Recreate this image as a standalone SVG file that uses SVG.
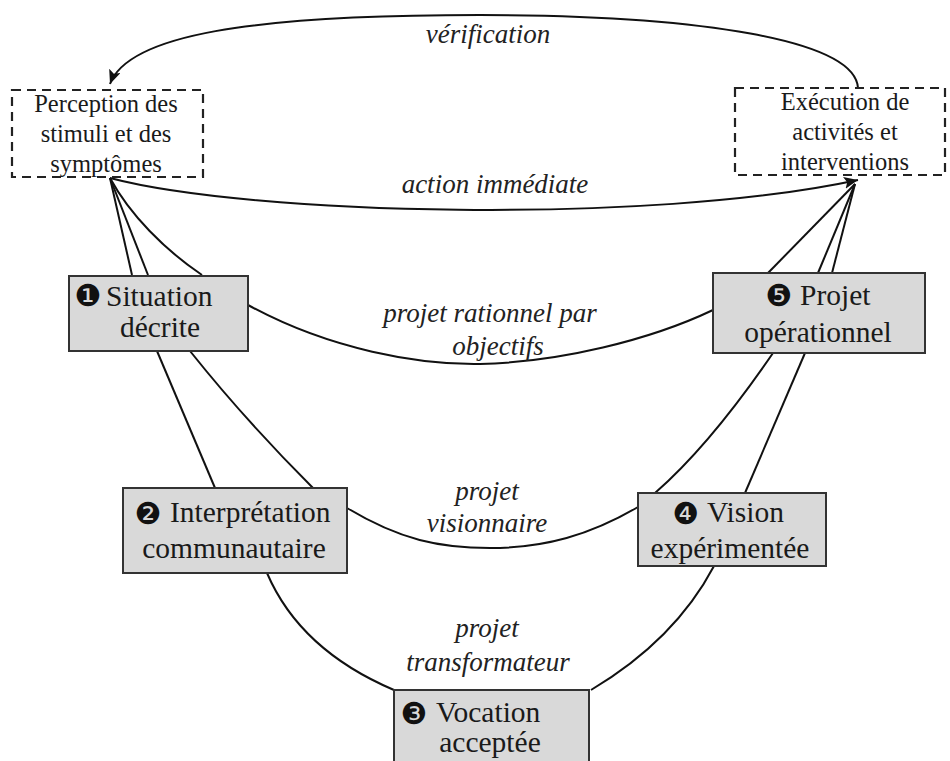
<svg xmlns="http://www.w3.org/2000/svg" width="950" height="761" viewBox="0 0 950 761">
<style>
.node rect{fill:#d9d9d9;stroke:#333;stroke-width:2}
.dash rect{fill:none;stroke:#222;stroke-width:2.2;stroke-dasharray:9,6}
.t{font-family:"Liberation Serif","Times New Roman",serif;fill:#1a1a1a}
.nt{font-size:29.5px}
.dt{font-size:24.5px}
.num{font-family:"DejaVu Sans",sans-serif;font-size:30px;fill:#111}
.lbl{font-family:"Liberation Serif","Times New Roman",serif;font-style:italic;font-size:27px;fill:#222;text-anchor:middle}
#connectors path{fill:none;stroke:#111;stroke-width:2}
</style>
<defs>
<marker id="arr" markerUnits="userSpaceOnUse" markerWidth="16" markerHeight="14" refX="14" refY="6" orient="auto">
<path d="M0,0 L14,6 L0,12 L3,6 Z" fill="#111"/>
</marker>
</defs>
<rect width="950" height="761" fill="#fff"/>
<g id="connectors">
<path d="M 858,88 C 855,40 700,15 480,15 C 250,15 128,35 110,84" marker-end="url(#arr)"/>
<path d="M 110,178 C 250,215 650,225 858,180" marker-end="url(#arr)"/>
<path d="M 110,178 L 132,275"/>
<path d="M 110,178 L 148,275"/>
<path d="M 110,178 C 130,215 165,250 202,275"/>
<path d="M 768,273 L 855,184"/>
<path d="M 818,273 L 855,184"/>
<path d="M 832,273 L 855,184"/>
<path d="M 248,305 C 330,350 420,365 480,364 C 560,362 650,340 713,310"/>
<path d="M 190,351 Q 245,420 313,488"/>
<path d="M 347,508 C 400,540 440,548 490,548 C 545,548 590,535 638,507"/>
<path d="M 655,493 Q 710,445 773,353"/>
<path d="M 157,351 L 215,488"/>
<path d="M 745,493 L 805,353"/>
<path d="M 267,573 Q 300,650 394,690"/>
<path d="M 591,690 Q 675,640 714,566"/>
</g>
<g id="perception" class="dash">
<rect x="12" y="90" width="191" height="87"/>
<text class="t dt" text-anchor="middle"><tspan x="106" y="112">Perception des</tspan><tspan x="106" y="142">stimuli et des</tspan><tspan x="106" y="172">symptômes</tspan></text>
</g>
<g id="execution" class="dash">
<rect x="735" y="88" width="210" height="87"/>
<text class="t dt" text-anchor="middle"><tspan x="845" y="110">Exécution de</tspan><tspan x="845" y="140">activités et</tspan><tspan x="845" y="170">interventions</tspan></text>
</g>
<g id="situation" class="node">
<rect x="69" y="276" width="179" height="75"/>
<text class="num" x="88" y="306" text-anchor="middle">❶</text>
<text class="t nt" x="106" y="306">Situation</text>
<text class="t nt" x="160" y="337" text-anchor="middle">décrite</text>
</g>
<g id="interpretation" class="node">
<rect x="123" y="488" width="224" height="85"/>
<text class="num" x="148" y="524" text-anchor="middle">❷</text>
<text class="t nt" x="170" y="522">Interprétation</text>
<text class="t nt" x="234" y="558" text-anchor="middle">communautaire</text>
</g>
<g id="vocation" class="node">
<rect x="394" y="690" width="195" height="80"/>
<text class="num" x="414" y="724" text-anchor="middle">❸</text>
<text class="t nt" x="436" y="722">Vocation</text>
<text class="t nt" x="490" y="752" text-anchor="middle">acceptée</text>
</g>
<g id="vision" class="node">
<rect x="638" y="493" width="188" height="73"/>
<text class="num" x="686" y="524" text-anchor="middle">❹</text>
<text class="t nt" x="707" y="522">Vision</text>
<text class="t nt" x="730" y="558" text-anchor="middle">expérimentée</text>
</g>
<g id="projet" class="node">
<rect x="713" y="273" width="212" height="80"/>
<text class="num" x="779" y="306" text-anchor="middle">❺</text>
<text class="t nt" x="800" y="305">Projet</text>
<text class="t nt" x="818" y="342" text-anchor="middle">opérationnel</text>
</g>
<g id="labels">
<text class="lbl" x="488" y="43">vérification</text>
<text class="lbl" x="495" y="193">action immédiate</text>
<text class="lbl" x="490" y="322">projet rationnel par</text>
<text class="lbl" x="498" y="355">objectifs</text>
<text class="lbl" x="487" y="500">projet</text>
<text class="lbl" x="487" y="532">visionnaire</text>
<text class="lbl" x="487" y="637">projet</text>
<text class="lbl" x="488" y="671">transformateur</text>
</g>
</svg>
